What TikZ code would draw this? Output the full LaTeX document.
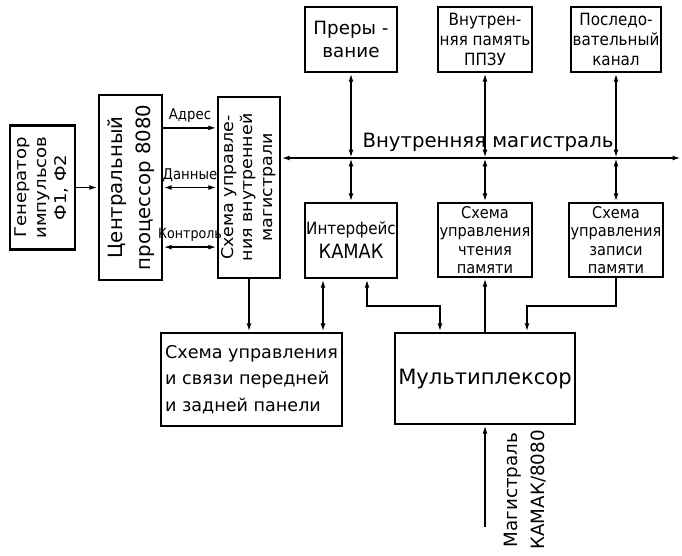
\documentclass[tikz,border=0pt]{standalone}
\usepackage{fontspec}
\setmainfont{DejaVu Sans}
\newfontfamily\cond{DejaVu Sans Condensed}
\usetikzlibrary{arrows.meta}
\newcommand\txtsize[2]{\fontsize{#1}{#2}\selectfont}

\tikzset{
	blk/.style={draw, line width=1.8pt, inner sep=0pt, align=center},
	lnk/.style={line width=1.3pt},
	>={Latex[length=6pt,width=3.5pt]}
}

\begin{document}
\begin{tikzpicture}[x=0.025cm, y=-0.025cm]

	\useasboundingbox (0,0) rectangle (682,555);

	% Processor part
	\node [blk, minimum width=1.625cm, minimum height=3.1cm, font=\txtsize{11.5}{14.5}] (gen) at (42.5,187.5)
		{\rotatebox{90}{\scalebox{1.12}[1]{\begin{tabular}{@{}c@{}}Генератор\\импульсов\\Ф1, Ф2\end{tabular}}}};
	\node [blk, minimum width=1.575cm, minimum height=4.625cm, font=\txtsize{14}{20}] (cpu) at (130.5,187.5)
		{\rotatebox{90}{\begin{tabular}{@{}c@{}}Центральный\\процессор 8080\end{tabular}}};
	\node [blk, minimum width=1.55cm, minimum height=4.525cm, font=\txtsize{11.5}{14}] (ctl) at (249,187.5)
		{\rotatebox{90}{\scalebox{1.08}[1]{\begin{tabular}{@{}c@{}}Схема управле-\\ния внутренней\\магистрали\end{tabular}}}};

	% Devices on the internal bus
	\node [blk, minimum width=2.3cm, minimum height=1.625cm, font=\txtsize{13}{17}] (irq) at (351,39.5) {Преры -\\вание};
	\node [blk, minimum width=2.35cm, minimum height=1.625cm, font=\cond\txtsize{12}{14}] (rom) at (485,39.5) {Внутрен-\\няя память\\ППЗУ};
	\node [blk, minimum width=2.25cm, minimum height=1.625cm, font=\cond\txtsize{12}{14}] (ser) at (616,39.5) {Последо-\\вательный\\канал};
	\node [blk, minimum width=2.3cm, minimum height=1.875cm, font=\cond\txtsize{12}{17}] (cam) at (351,240.5) {Интерфейс\\{\txtsize{14}{17}КАМАК}};
	\node [blk, minimum width=2.35cm, minimum height=1.85cm, font=\cond\txtsize{11.5}{13}] (rd) at (485,240) {Схема\\управления\\чтения\\памяти};
	\node [blk, minimum width=2.35cm, minimum height=1.85cm, font=\cond\txtsize{11.5}{13}] (wr) at (616,240) {Схема\\управления\\записи\\памяти};

	% Lower blocks
	\node [blk, minimum width=4.525cm, minimum height=2.325cm, align=left, font=\txtsize{12.5}{19}] (pnl) at (251.5,379.5)
		{Схема управления\\и связи передней\\и задней панели};
	\node [blk, minimum width=4.5cm, minimum height=2.275cm, font=\txtsize{15}{18}] (mux) at (485,378.5) {Мультиплексор};

	% Processor links
	\draw [lnk, ->] (gen.east) -- (gen.east -| cpu.west);
	\draw [lnk, ->] ([yshift=1.49cm]cpu.east) -- ([yshift=1.49cm]cpu.east -| ctl.west)
		node [midway, above, font=\cond\txtsize{10.5}{12}] (adrlbl) {Адрес};
	\draw [lnk, <->] (cpu.east) -- (cpu.east -| ctl.west)
		node [midway, above, font=\cond\txtsize{10.5}{12}] (datlbl) {Данные};
	\draw [lnk, <->] ([yshift=-1.49cm]cpu.east) -- ([yshift=-1.49cm]cpu.east -| ctl.west)
		node [midway, above, font=\cond\txtsize{10}{12}] (kntlbl) {Контроль};

	% Internal bus
	\coordinate (busend) at (681,158);
	\draw [lnk, <->] (ctl.east |- busend) -- (busend);
	\node [font=\txtsize{14}{16}] (buslbl) at (488,142) {Внутренняя магистраль};

	\draw [lnk, <->] (irq) -- (irq |- busend);
	\draw [lnk, <->] (irq |- busend) -- (cam);
	\draw [lnk, <->] (rom) -- (rom |- busend);
	\draw [lnk, <->] (rom |- busend) -- (rd);
	\draw [lnk, <->] (ser) -- (ser |- busend);
	\draw [lnk, <->] (ser |- busend) -- (wr);

	% Links to the lower blocks
	\draw [lnk, ->] (ctl.south) -- (ctl.south |- pnl.north);
	\draw [lnk, <->] ([xshift=-0.7cm]cam.south) -- ([xshift=-0.7cm]cam.south |- pnl.north);
	\draw [lnk, <->] ([xshift=0.4cm]cam.south) -- ++(0,27) -| ([xshift=-1.125cm]mux.north);
	\draw [lnk, ->] (mux) -- (rd);
	\draw [lnk, ->] (wr.south) -- ++(0,28) -| ([xshift=1.05cm]mux.north);

	% External bus input
	\coordinate (magin) at (485,527);
	\draw [lnk, ->] (magin) -- (mux);
	\node [rotate=90, align=center, font=\txtsize{13}{19}] (maglbl) at (525,490) {Магистраль\\КАМАК/8080};

\end{tikzpicture}
\end{document}
